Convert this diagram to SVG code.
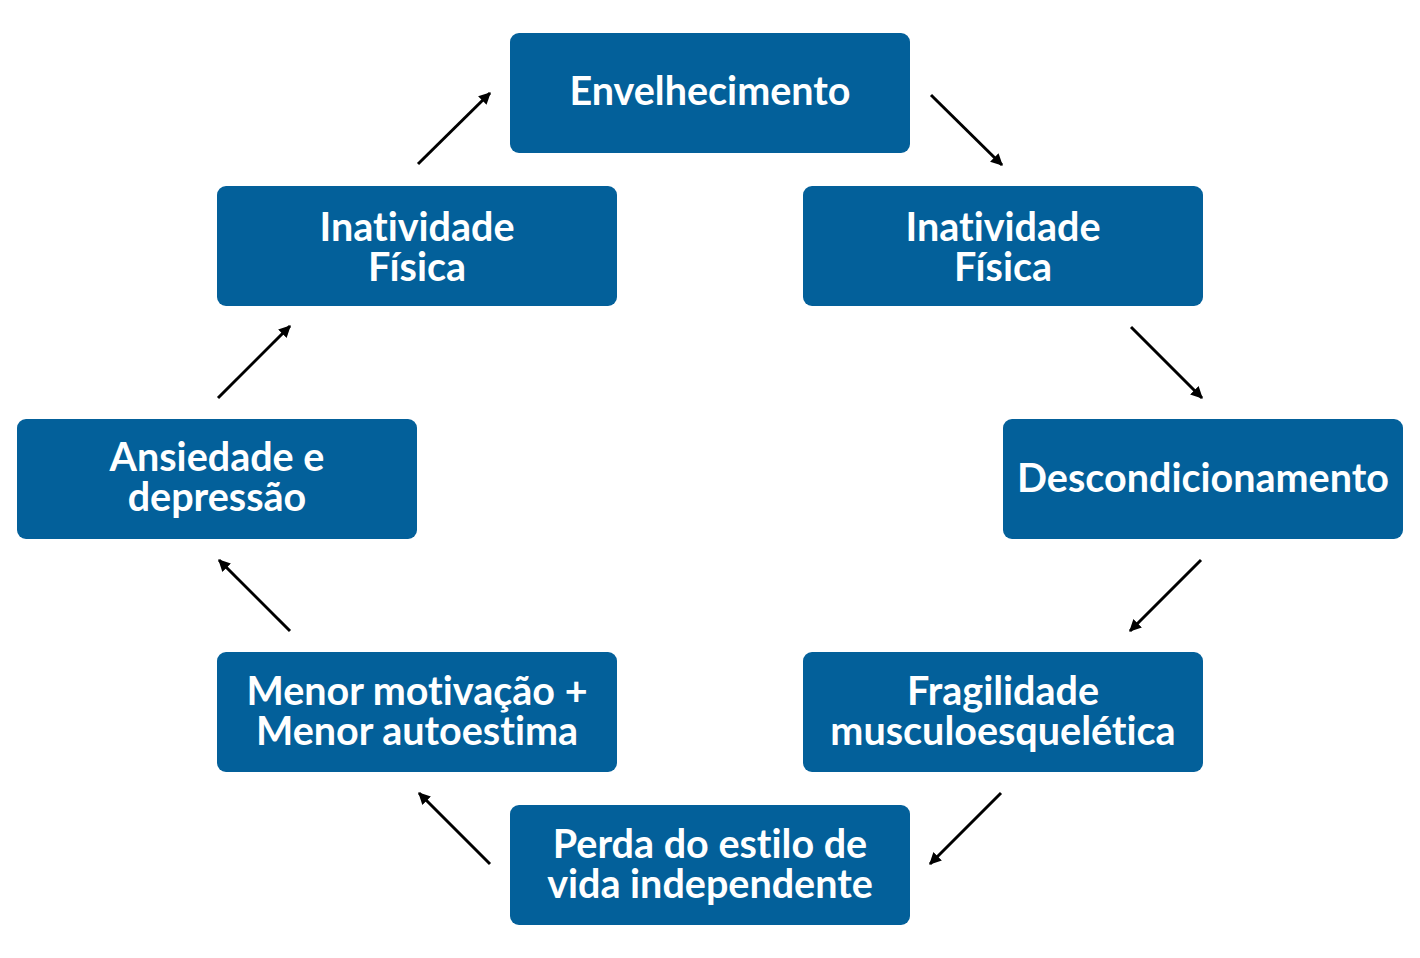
<svg xmlns="http://www.w3.org/2000/svg" width="1420" height="958" viewBox="0 0 1420 958">
<style>
.box{fill:#03609A}
.t{font-family:Lato,"Liberation Sans",sans-serif;font-weight:bold;font-size:39.5px;fill:#fff;text-anchor:middle;font-variant-ligatures:none}
.c line{stroke:#000;stroke-width:3;marker-end:url(#ah)}
</style>
<defs>
<marker id="ah" viewBox="0 0 10 10" refX="9" refY="5" markerWidth="4" markerHeight="4" orient="auto" markerUnits="strokeWidth">
<path d="M0,0 L10,5 L0,10 z" fill="#000"/>
</marker>
</defs>
<rect width="1420" height="958" fill="#fff"/>
<g id="n1"><rect class="box" x="510" y="33" width="400" height="120" rx="9"/><text class="t" x="710" y="105">Envelhecimento</text></g>
<g id="n2"><rect class="box" x="803" y="186" width="400" height="120" rx="9"/><text class="t" x="1003" y="241">Inatividade</text><text class="t" x="1003" y="281">Física</text></g>
<g id="n3"><rect class="box" x="1003" y="419" width="400" height="120" rx="9"/><text class="t" x="1203" y="492">Descondicionamento</text></g>
<g id="n4"><rect class="box" x="803" y="652" width="400" height="120" rx="9"/><text class="t" x="1003" y="705">Fragilidade</text><text class="t" x="1003" y="745">musculoesquelética</text></g>
<g id="n5"><rect class="box" x="510" y="805" width="400" height="120" rx="9"/><text class="t" x="710" y="858">Perda do estilo de</text><text class="t" x="710" y="898">vida independente</text></g>
<g id="n6"><rect class="box" x="217" y="652" width="400" height="120" rx="9"/><text class="t" x="417" y="705">Menor motivação +</text><text class="t" x="417" y="745">Menor autoestima</text></g>
<g id="n7"><rect class="box" x="17" y="419" width="400" height="120" rx="9"/><text class="t" x="217" y="471">Ansiedade e</text><text class="t" x="217" y="511">depressão</text></g>
<g id="n8"><rect class="box" x="217" y="186" width="400" height="120" rx="9"/><text class="t" x="417" y="241">Inatividade</text><text class="t" x="417" y="281">Física</text></g>
<g class="c" id="connectors">
<line x1="931" y1="95" x2="1002" y2="165"/>
<line x1="1131" y1="327" x2="1202" y2="398"/>
<line x1="1201" y1="560" x2="1130" y2="631"/>
<line x1="1001" y1="793" x2="930" y2="864"/>
<line x1="490" y1="864" x2="419" y2="793"/>
<line x1="290" y1="631" x2="219" y2="560"/>
<line x1="218" y1="398" x2="290" y2="326"/>
<line x1="418" y1="164" x2="490" y2="93"/>
</g>
</svg>
